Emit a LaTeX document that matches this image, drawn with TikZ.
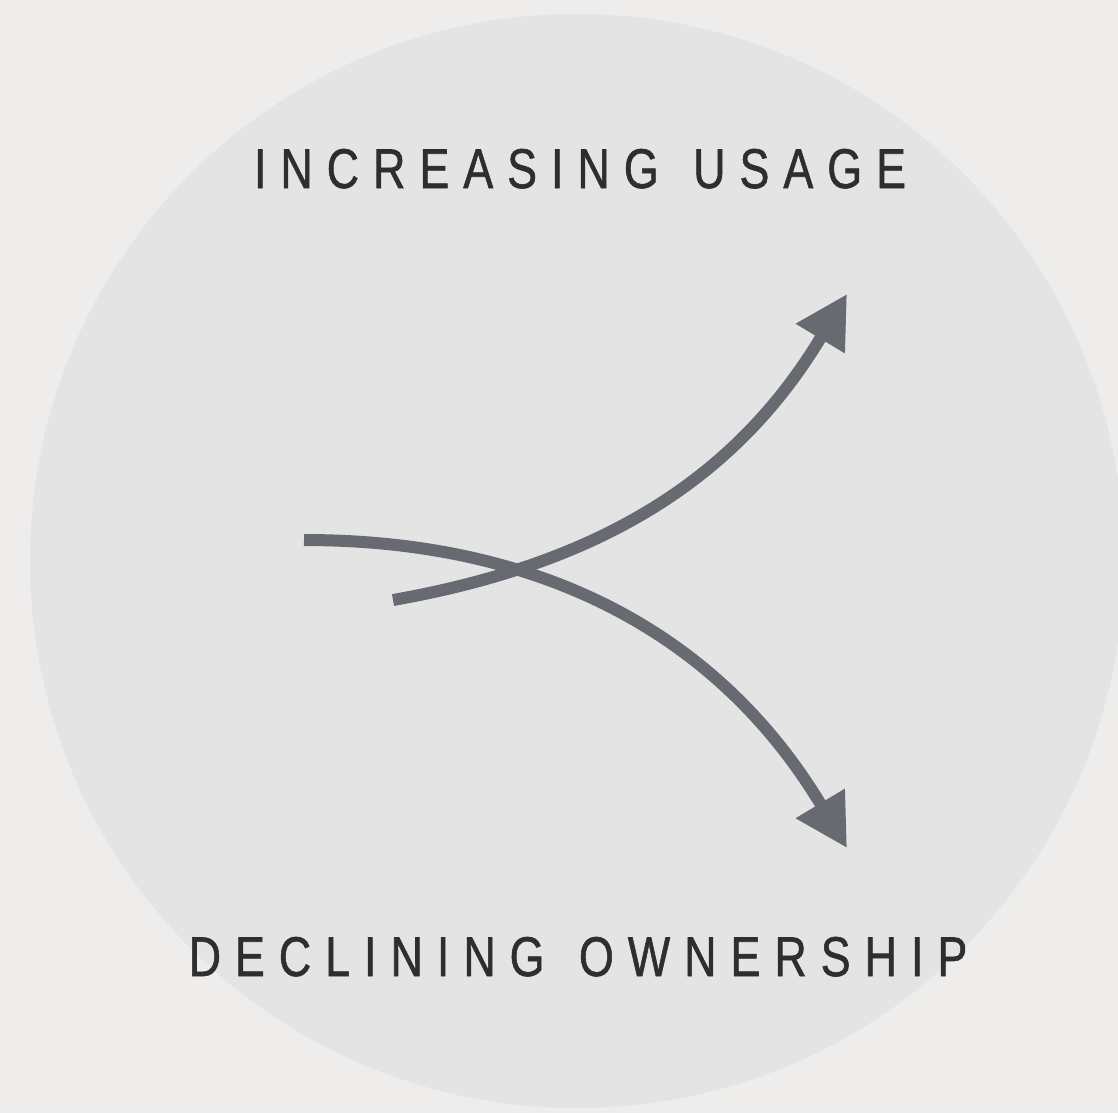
\documentclass[tikz,border=0pt]{standalone}
\usepackage{fontspec}
\usetikzlibrary{arrows.meta}
\newfontfamily\trendfont[FakeStretch=0.8,LetterSpace=25,FakeBold=1]{Liberation Sans}
\definecolor{pagegray}{HTML}{EEEDEB}
\definecolor{discgray}{HTML}{E4E4E4}
\definecolor{arrowgray}{HTML}{676A71}
\definecolor{labelgray}{HTML}{2F2E2E}
\newcommand{\wordgap}{\hspace{8pt}}

\begin{document}
\begin{tikzpicture}[x=1pt, y=-1pt,
	trend/.style = {draw=arrowgray, line width=12pt,
		-{Triangle[length=52pt,width=54pt]}, arrowgray},
	caption/.style = {text=labelgray, anchor=base,
		font=\trendfont\fontsize{56}{60}\selectfont, inner sep=0pt}]

	\useasboundingbox (0,0) rectangle (1118,1113);
	\fill[pagegray] (0,0) rectangle (1118,1113);
	\begin{scope}
		\clip (0,0) rectangle (1118,1113);
		\fill[discgray] (577,561) circle (547);
	\end{scope}

	\node[caption] (usage) at (580,188) {INCREASING \wordgap USAGE};
	\node[caption] (owner) at (578,976) {DECLINING \wordgap OWNERSHIP};

	\coordinate (usestart) at (393,600);
	\coordinate (useend) at (847,294);
	\coordinate (ownstart) at (304,540);
	\coordinate (ownend) at (847,848);

	\draw[trend] (usestart) to[out=10, in=239] (useend);
	\draw[trend] (ownstart) to[out=0, in=121] (ownend);
\end{tikzpicture}
\end{document}
